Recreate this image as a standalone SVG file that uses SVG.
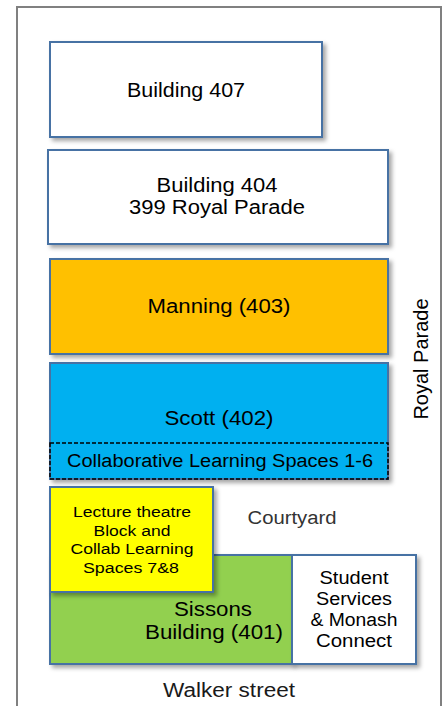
<svg xmlns="http://www.w3.org/2000/svg" width="446" height="706" viewBox="0 0 446 706">
<style>
.bx{stroke:#4672a4;stroke-width:2;filter:url(#sh)}
.t{font-family:"Liberation Sans",Arial,sans-serif;fill:#000;text-anchor:middle}
.f20{font-size:20px}
.f18{font-size:18px}
.f15{font-size:15.5px}
</style>
<defs>
<filter id="sh" x="-10%" y="-10%" width="130%" height="130%">
<feDropShadow dx="3" dy="3" stdDeviation="2" flood-color="#000" flood-opacity="0.35"/>
</filter>
</defs>
<rect x="17" y="7" width="424" height="710" fill="#fff" stroke="#808080" stroke-width="2"/>
<g id="b407">
<rect class="bx" x="50" y="42" width="272" height="95" fill="#fff"/>
<text class="t f20" x="186" y="97" textLength="118" lengthAdjust="spacingAndGlyphs">Building 407</text>
</g>
<g id="b404">
<rect class="bx" x="48" y="150" width="340" height="94" fill="#fff"/>
<text class="t f20" x="217" y="192" textLength="121" lengthAdjust="spacingAndGlyphs">Building 404</text>
<text class="t f20" x="217" y="214" textLength="176" lengthAdjust="spacingAndGlyphs">399 Royal Parade</text>
</g>
<g id="manning">
<rect class="bx" x="50" y="259" width="338" height="95" fill="#ffc000"/>
<text class="t f20" x="219" y="313" textLength="143" lengthAdjust="spacingAndGlyphs">Manning (403)</text>
</g>
<g id="scott">
<rect class="bx" x="50" y="363" width="338" height="116" fill="#00b0f0"/>
<text class="t f20" x="219" y="425" textLength="109" lengthAdjust="spacingAndGlyphs">Scott (402)</text>
</g>
<g id="cls16">
<rect x="50" y="443" width="338" height="36" fill="none" stroke="#000" stroke-width="1.5" stroke-dasharray="4,2"/>
<text class="t f18" x="220" y="467" textLength="306" lengthAdjust="spacingAndGlyphs">Collaborative Learning Spaces 1-6</text>
</g>
<g id="royalparade">
<text class="t f20" transform="translate(428,359) rotate(-90)" x="0" y="0">Royal Parade</text>
</g>
<g id="sissons">
<rect class="bx" x="50" y="555" width="242" height="109" fill="#92d050"/>
<text class="t f20" x="213" y="616" textLength="78" lengthAdjust="spacingAndGlyphs">Sissons</text>
<text class="t f20" x="214" y="639" textLength="138" lengthAdjust="spacingAndGlyphs">Building (401)</text>
</g>
<g id="studentservices">
<rect class="bx" x="292" y="555" width="124" height="109" fill="#fff"/>
<text class="t f18" x="354" y="584" textLength="69" lengthAdjust="spacingAndGlyphs">Student</text>
<text class="t f18" x="354" y="605" textLength="76" lengthAdjust="spacingAndGlyphs">Services</text>
<text class="t f18" x="354" y="626" textLength="87" lengthAdjust="spacingAndGlyphs">&amp; Monash</text>
<text class="t f18" x="354" y="647" textLength="76" lengthAdjust="spacingAndGlyphs">Connect</text>
</g>
<g id="lecture">
<rect class="bx" x="50" y="487" width="163" height="105" fill="#ffff00"/>
<text class="t f15" x="132" y="517" textLength="118" lengthAdjust="spacingAndGlyphs">Lecture theatre</text>
<text class="t f15" x="132" y="536" textLength="77" lengthAdjust="spacingAndGlyphs">Block and</text>
<text class="t f15" x="132" y="554" textLength="123" lengthAdjust="spacingAndGlyphs">Collab Learning</text>
<text class="t f15" x="131" y="573" textLength="96" lengthAdjust="spacingAndGlyphs">Spaces 7&amp;8</text>
</g>
<g id="courtyard">
<text class="t f18" x="292" y="524" style="fill:#333" textLength="89" lengthAdjust="spacingAndGlyphs">Courtyard</text>
</g>
<g id="walker">
<text class="t f20" x="229" y="697" style="fill:#1a1a1a" textLength="132" lengthAdjust="spacingAndGlyphs">Walker street</text>
</g>
<g id="connectors"></g>
</svg>
